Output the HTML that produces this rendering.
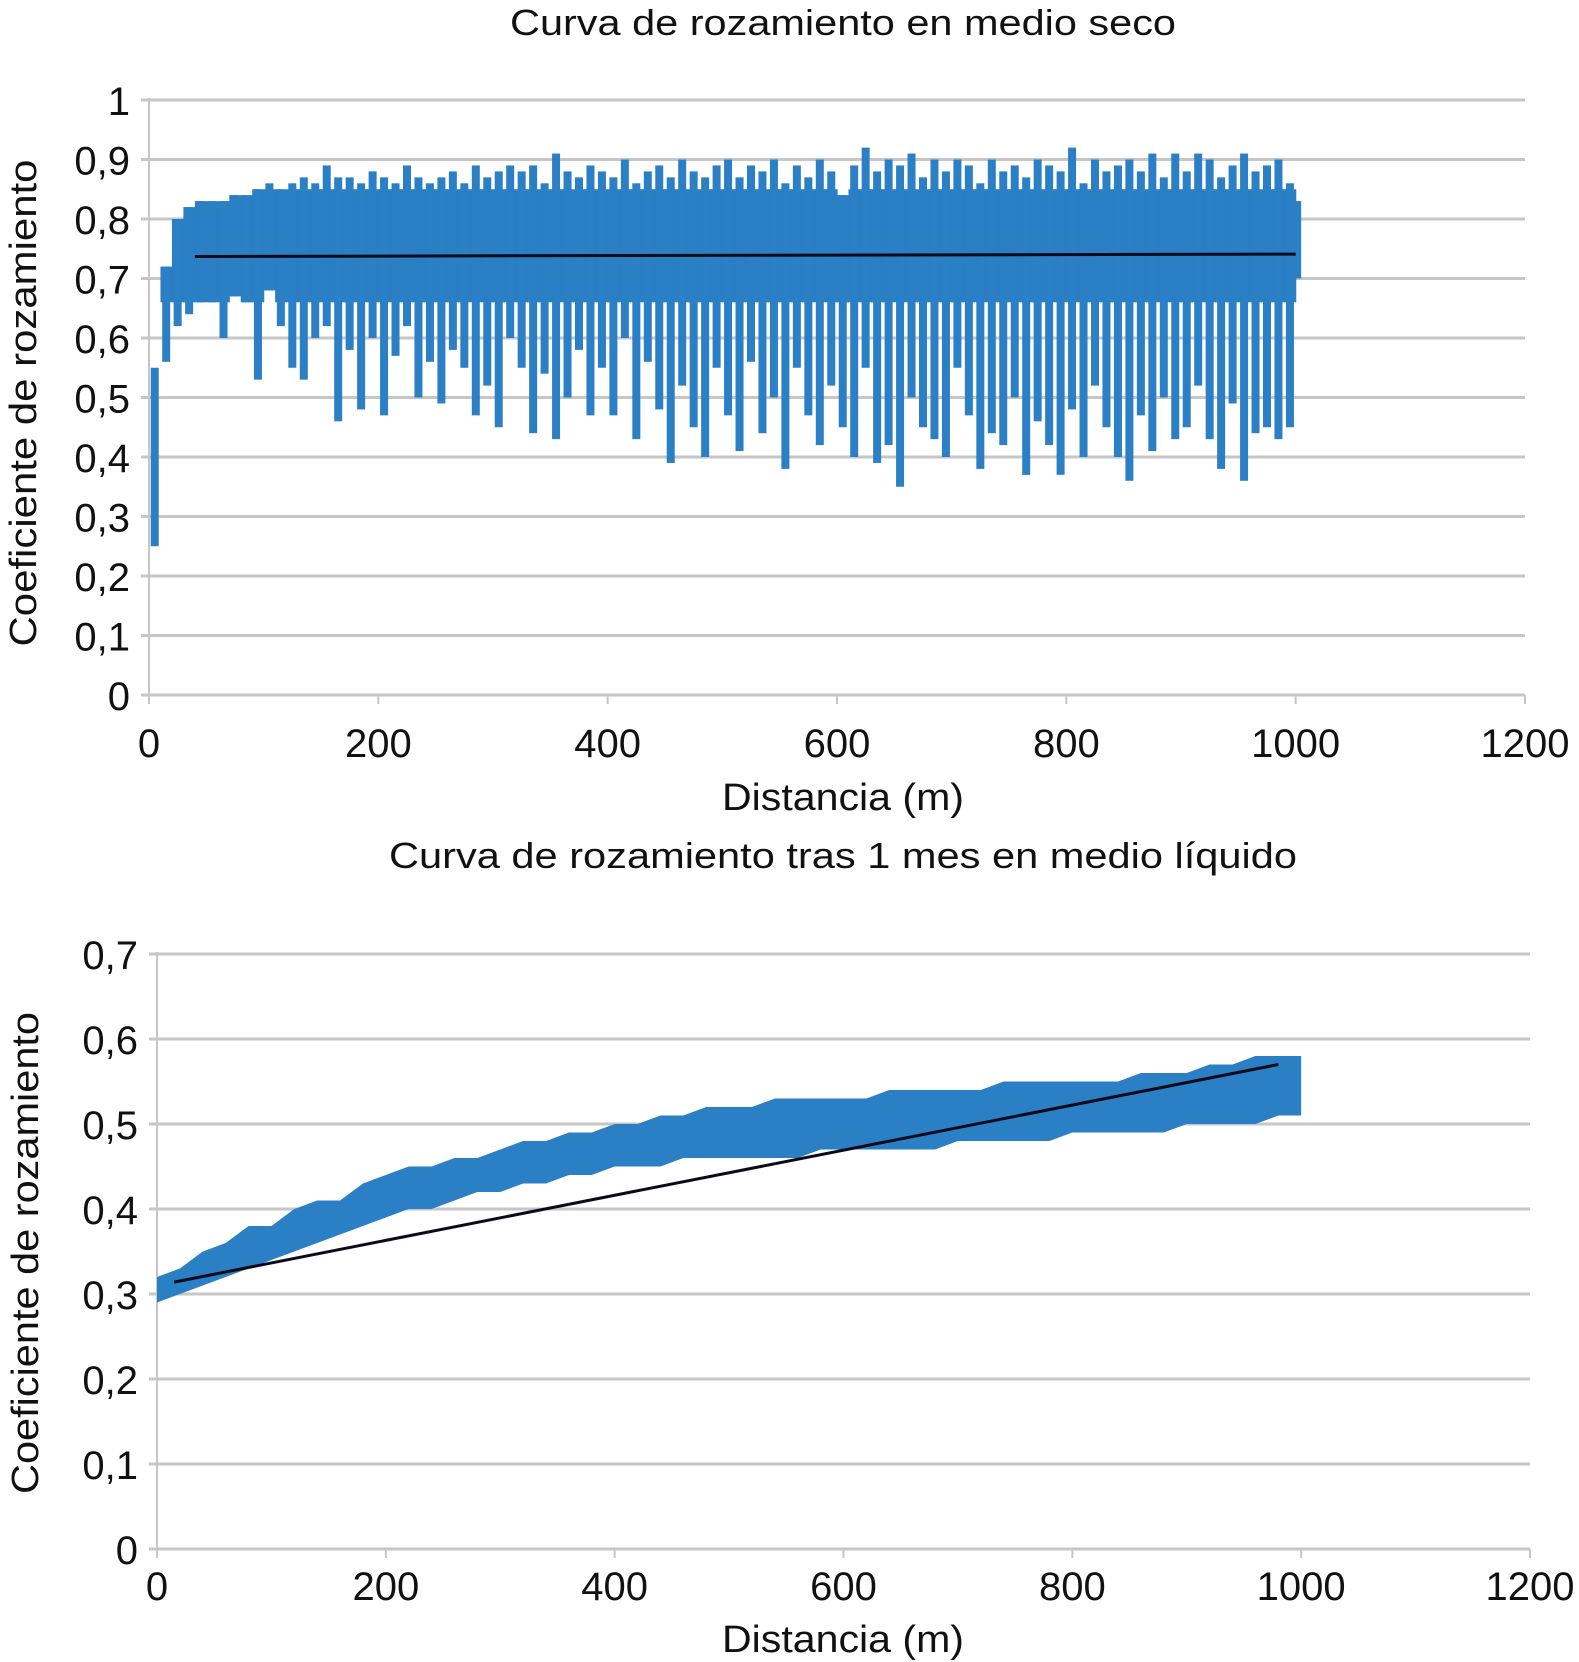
<!DOCTYPE html>
<html><head><meta charset="utf-8"><style>
html,body{margin:0;padding:0;background:#fff;}
svg{display:block;font-family:"Liberation Sans",Arial,sans-serif;}
</style></head><body>
<svg id="s" width="1579" height="1662" viewBox="0 0 1579 1662">
<g id="top"></g>
<g id="bot"></g>
</svg>
<script>
// ---- Top chart data (dry medium) ----
const topDist = [0,10,20,30,40,50,60,70,80,90,100,110,120,130,140,150,160,170,180,190,200,210,220,230,240,250,260,270,280,290,300,310,320,330,340,350,360,370,380,390,400,410,420,430,440,450,460,470,480,490,500,510,520,530,540,550,560,570,580,590,600,610,620,630,640,650,660,670,680,690,700,710,720,730,740,750,760,770,780,790,800,810,820,830,840,850,860,870,880,890,900,910,920,930,940,950,960,970,980,990,1000];
const topUpper = [0.55,0.72,0.80,0.82,0.83,0.83,0.83,0.84,0.84,0.85,0.86,0.85,0.86,0.87,0.86,0.89,0.87,0.87,0.86,0.88,0.87,0.86,0.89,0.87,0.86,0.87,0.88,0.86,0.89,0.87,0.88,0.89,0.88,0.89,0.86,0.91,0.88,0.87,0.89,0.88,0.87,0.90,0.86,0.88,0.89,0.87,0.90,0.88,0.87,0.89,0.90,0.87,0.89,0.88,0.90,0.86,0.89,0.87,0.90,0.88,0.84,0.89,0.92,0.88,0.90,0.89,0.91,0.87,0.90,0.88,0.90,0.89,0.86,0.90,0.88,0.89,0.87,0.90,0.89,0.88,0.92,0.86,0.90,0.88,0.89,0.90,0.88,0.91,0.87,0.91,0.88,0.91,0.90,0.87,0.89,0.91,0.88,0.89,0.90,0.86,0.83];
const topLower = [0.25,0.56,0.62,0.64,0.66,0.66,0.60,0.67,0.66,0.53,0.68,0.62,0.55,0.53,0.60,0.62,0.46,0.58,0.48,0.60,0.47,0.57,0.62,0.50,0.56,0.49,0.58,0.55,0.47,0.52,0.45,0.60,0.55,0.44,0.54,0.43,0.50,0.58,0.47,0.55,0.47,0.60,0.43,0.56,0.48,0.39,0.52,0.45,0.40,0.55,0.47,0.41,0.56,0.44,0.50,0.38,0.55,0.47,0.42,0.52,0.45,0.40,0.55,0.39,0.42,0.35,0.50,0.45,0.43,0.40,0.55,0.47,0.38,0.44,0.42,0.50,0.37,0.46,0.42,0.37,0.48,0.40,0.52,0.45,0.40,0.36,0.47,0.41,0.50,0.43,0.45,0.52,0.43,0.38,0.49,0.36,0.44,0.45,0.43,0.45,0.70];
const topTrendX = [40,1000];
const topTrendY = [0.737,0.741];
const topYTicks = [0,0.1,0.2,0.3,0.4,0.5,0.6,0.7,0.8,0.9,1];
const topXTicks = [0,200,400,600,800,1000,1200];

// ---- Bottom chart data (liquid medium) ----
const botDist = [0,20,40,60,80,100,120,140,160,180,200,220,240,260,280,300,320,340,360,380,400,420,440,460,480,500,520,540,560,580,600,620,640,660,680,700,720,740,760,780,800,820,840,860,880,900,920,940,960,980,1000];
const botUpper = [0.32,0.33,0.35,0.36,0.38,0.38,0.40,0.41,0.41,0.43,0.44,0.45,0.45,0.46,0.46,0.47,0.48,0.48,0.49,0.49,0.50,0.50,0.51,0.51,0.52,0.52,0.52,0.53,0.53,0.53,0.53,0.53,0.54,0.54,0.54,0.54,0.54,0.55,0.55,0.55,0.55,0.55,0.55,0.56,0.56,0.56,0.57,0.57,0.58,0.58,0.58];
const botLower = [0.29,0.30,0.31,0.32,0.33,0.34,0.35,0.36,0.37,0.38,0.39,0.40,0.40,0.41,0.42,0.42,0.43,0.43,0.44,0.44,0.45,0.45,0.45,0.46,0.46,0.46,0.46,0.46,0.46,0.47,0.47,0.47,0.47,0.47,0.47,0.48,0.48,0.48,0.48,0.48,0.49,0.49,0.49,0.49,0.49,0.50,0.50,0.50,0.50,0.51,0.51];
const botTrendX = [15,980];
const botTrendY = [0.314,0.57];
const botYTicks = [0,0.1,0.2,0.3,0.4,0.5,0.6,0.7];
const botXTicks = [0,200,400,600,800,1000,1200];

const NS = "http://www.w3.org/2000/svg";
function mk(parent, tag, attrs, text){
  const e = document.createElementNS(NS, tag);
  for (const k in attrs) e.setAttribute(k, attrs[k]);
  if (text !== undefined) e.textContent = text;
  parent.appendChild(e);
  return e;
}
function fmt(v){ return (Math.round(v*10)/10).toString().replace('.', ','); }

function chart(g, cfg){
  const xs = d => cfg.x0 + d * (cfg.x1 - cfg.x0) / 1200;
  const ys = v => cfg.y0 - v * (cfg.y0 - cfg.y1) / cfg.ymax;
  cfg.yTicks.forEach(v => {
    const l = mk(g, 'line', {x1: cfg.x0-8, x2: cfg.x1, y1: ys(v), y2: ys(v), stroke: '#c6c6c6', 'stroke-width': 3});
    
    
    const t = mk(g, 'text', {x: cfg.ylabX, y: ys(v)+15, 'text-anchor': 'end', 'font-size': 40, fill: '#111'}, fmt(v));
    
    
  });
  const ax = mk(g, 'line', {x1: cfg.x0, x2: cfg.x0, y1: ys(cfg.ymax)-2, y2: cfg.y0+8, stroke: '#c6c6c6', 'stroke-width': 2});
  
  
  cfg.xTicks.forEach(d => {
    const tk = mk(g, 'line', {x1: xs(d), x2: xs(d), y1: cfg.y0, y2: cfg.y0+9, stroke: '#c6c6c6', 'stroke-width': 2});
    
    
    const t = mk(g, 'text', {x: xs(d), y: cfg.xlabY, 'text-anchor': 'middle', 'font-size': 40, fill: '#111'}, String(d));
    
    
  });
  const sg = mk(g, 'g', {});
  
  
  const n = cfg.dist.length;
  if (cfg.bars) {
    for (let i = 0; i < n; i++) {
      const xa = xs(cfg.dist[i]);
      const xb = i < n-1 ? xs(cfg.dist[i+1]) : xa + 3;
      const hi = Math.min(cfg.upper[i], cfg.coreHi);
      const lo = Math.max(cfg.lower[i], Math.min(cfg.coreLo, cfg.upper[i]));
      const c = mk(sg, 'rect', {x: xa, y: ys(hi), width: xb-xa+0.6, height: Math.max(0, ys(lo)-ys(hi)), fill: '#2b7fc4'});
      
      
    }
    for (let i = 0; i < n; i++) {
      const xa = xs(cfg.dist[i]);
      const xb = i < n-1 ? xs(cfg.dist[i+1]) : xa + 3;
      const r = mk(sg, 'rect', {x: (xa+xb)/2 - 4, y: ys(cfg.upper[i]), width: 8, height: ys(cfg.lower[i]) - ys(cfg.upper[i]), fill: '#2b7fc4'});
      
      
    }
  } else {
    let p = '';
    for (let i = 0; i < n; i++) p += (i ? 'L' : 'M') + xs(cfg.dist[i]) + ',' + ys(cfg.upper[i]);
    for (let i = n-1; i >= 0; i--) p += 'L' + xs(cfg.dist[i]) + ',' + ys(cfg.lower[i]);
    const a = mk(sg, 'path', {d: p + 'Z', fill: '#2b7fc4'});
    
    
  }
  const tr = mk(g, 'line', {x1: xs(cfg.tx[0]), x2: xs(cfg.tx[1]), y1: ys(cfg.ty[0]), y2: ys(cfg.ty[1]), stroke: '#0a0a1a', 'stroke-width': 3});
  
  
  const ti = mk(g, 'text', {x: cfg.titleX, y: cfg.titleY, 'font-size': 36, fill: '#111', textLength: cfg.titleW, lengthAdjust: 'spacingAndGlyphs'}, cfg.title);
  
  
  const xt = mk(g, 'text', {x: cfg.xtX, y: cfg.xtY, 'font-size': 38, fill: '#111', textLength: 242, lengthAdjust: 'spacingAndGlyphs'}, 'Distancia (m)');
  
  
  const yt = mk(g, 'text', {x: 0, y: 0, 'font-size': 38, fill: '#111', 'text-anchor': 'middle', textLength: cfg.ytW, lengthAdjust: 'spacingAndGlyphs', transform: 'translate(' + cfg.ytX + ',' + cfg.ytY + ') rotate(-90)'}, 'Coeficiente de rozamiento');
  
  
}

chart(document.getElementById('top'), {
  x0: 149, x1: 1525, y0: 695, y1: 100, ymax: 1,
  yTicks: topYTicks, xTicks: topXTicks, ylabX: 130, xlabY: 757,
  dist: topDist, upper: topUpper, lower: topLower, bars: true, coreHi: 0.85, coreLo: 0.66,
  tx: topTrendX, ty: topTrendY,
  title: 'Curva de rozamiento en medio seco', titleX: 510, titleY: 35, titleW: 666,
  xtX: 722, xtY: 810, ytX: 36, ytY: 403, ytW: 487
});
chart(document.getElementById('bot'), {
  x0: 157, x1: 1530, y0: 1549, y1: 954, ymax: 0.7,
  yTicks: botYTicks, xTicks: botXTicks, ylabX: 138, xlabY: 1600,
  dist: botDist, upper: botUpper, lower: botLower, bars: false,
  tx: botTrendX, ty: botTrendY,
  title: 'Curva de rozamiento tras 1 mes en medio líquido', titleX: 389, titleY: 868, titleW: 908,
  xtX: 722, xtY: 1652, ytX: 38, ytY: 1253, ytW: 482
});
</script>
</body></html>
